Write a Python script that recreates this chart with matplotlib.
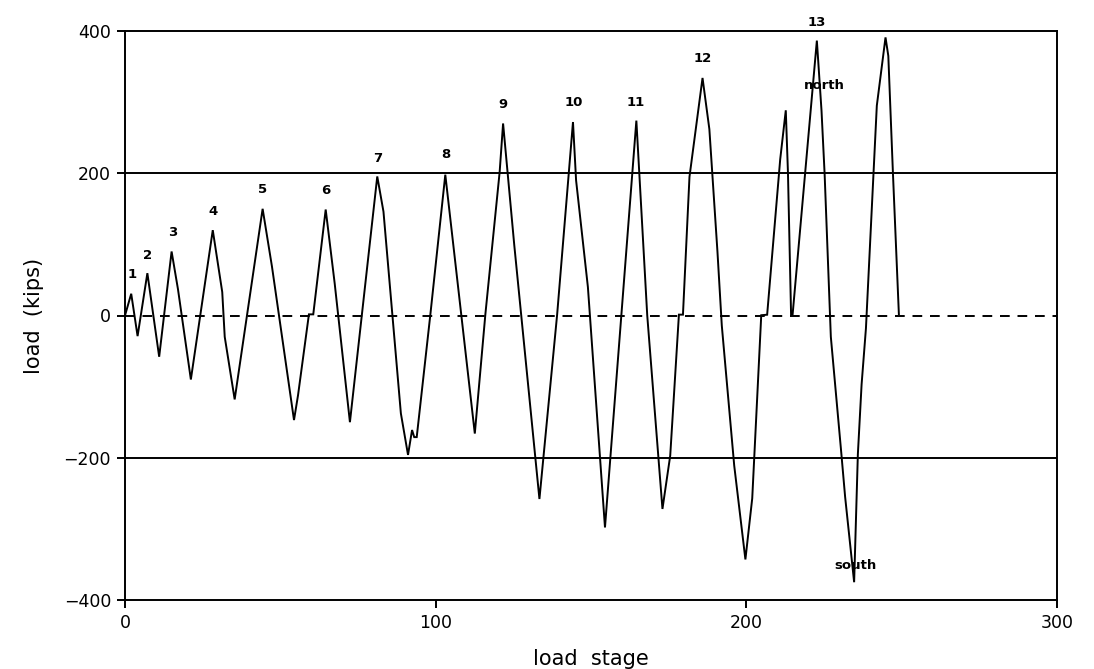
import matplotlib
matplotlib.use("Agg")
import matplotlib.pyplot as plt

# load history (load stage, load in kips)
stage = [0, 2.0, 4.05, 7.2, 11.0, 15.0, 17.05, 21.2, 28.25, 31.3, 32.1, 35.3,
         44.3, 47.3, 54.4, 55.7, 59.2, 60.6, 64.6, 67.5, 72.4, 81.2, 83.2,
         88.8, 91.1, 92.4, 93.1, 93.9, 98.3, 103.1, 112.6, 116.0, 120.6, 121.7,
         125.3, 133.4, 139.1, 144.2, 145.2, 149.0, 154.5, 164.6, 168.1, 173.0,
         175.5, 178.3, 179.6, 181.7, 185.9, 188.1, 190.7, 192.1, 196.1, 199.7,
         201.9, 204.8, 206.7, 210.9, 212.7, 213.4, 214.4, 214.9, 222.7, 224.2,
         225.2, 227.2, 230.6, 231.8, 234.7, 235.9, 237.1, 238.5, 242.0, 244.8,
         245.7, 247.2, 249.1]
load = [0, 30.6, -29, 59.5, -58, 90, 37, -90, 120, 33, -30, -118,
        150, 69, -147, -112, 1.6, 1.6, 149, 45, -150, 195.5, 146,
        -137.6, -196, -161, -171, -171, 1.7, 198, -166, 1.8, 202, 270,
        99, -258, 1.3, 272, 190, 40, -298, 274, 0.2, -272,
        -197, 1.2, 1.2, 195, 334, 262, 90, -14, -211, -343,
        -257, 0.4, 1.1, 219.5, 288.5, 200.5, 1.6, 1.6, 386.5, 288,
        199, -30, -195, -255, -375, -195, -97, -18, 295, 391,
        365, 199, 2]

# zero reference (dashed)
ref_stage = [0, 300]
ref_load = [0, 0]

# cycle numbers and their label positions
cycle_labels = ["1", "2", "3", "4", "5", "6", "7", "8", "9", "10", "11", "12", "13"]
cycle_x = [2.2, 7.2, 15.4, 28.3, 44.3, 64.7, 81.4, 103.3, 121.8, 144.6, 164.5, 186.1, 222.8]
cycle_y = [58, 85, 116, 146, 177, 176, 221, 226, 297, 299, 300, 362, 412]

side_labels = ["north", "south"]
side_x = [225, 235]
side_y = [323, -352]

xticks = [0, 100, 200, 300]
yticks = [-400, -200, 0, 200, 400]
grid_levels = [-200, 200]

plt.rcParams['font.family'] = ['DejaVu Sans']

fig = plt.figure(figsize=(10.94, 6.69), dpi=100)
ax = fig.add_axes([125/1094, 69/669, 932/1094, 569/669])

ax.plot(stage, load, color='black', lw=1.4, solid_joinstyle='miter')
ax.plot(ref_stage, ref_load, color='black', lw=1.4, ls=(0, (5, 4)))
for g in grid_levels:
    ax.axhline(g, color='black', lw=1.4)

for t, x, y in zip(cycle_labels, cycle_x, cycle_y):
    ax.text(x, y, t, ha='center', va='center', fontsize=9.5, fontweight='bold',
            clip_on=False)
for t, x, y in zip(side_labels, side_x, side_y):
    ax.text(x, y, t, ha='center', va='center', fontsize=9.5, fontweight='bold')

ax.set_xlim(0, 300)
ax.set_ylim(-400, 400)
ax.set_xticks(xticks)
ax.set_yticks(yticks)
ax.set_yticklabels(["\u2212400", "\u2212200", "0", "200", "400"])
ax.tick_params(direction='out', length=6, width=1.4, labelsize=12.5, pad=4)
for s in ax.spines.values():
    s.set_linewidth(1.4)

ax.set_xlabel("load  stage", fontsize=15, labelpad=12)
ax.set_ylabel("load  (kips)", fontsize=15, labelpad=14)

fig.savefig("out.png", dpi=100)
